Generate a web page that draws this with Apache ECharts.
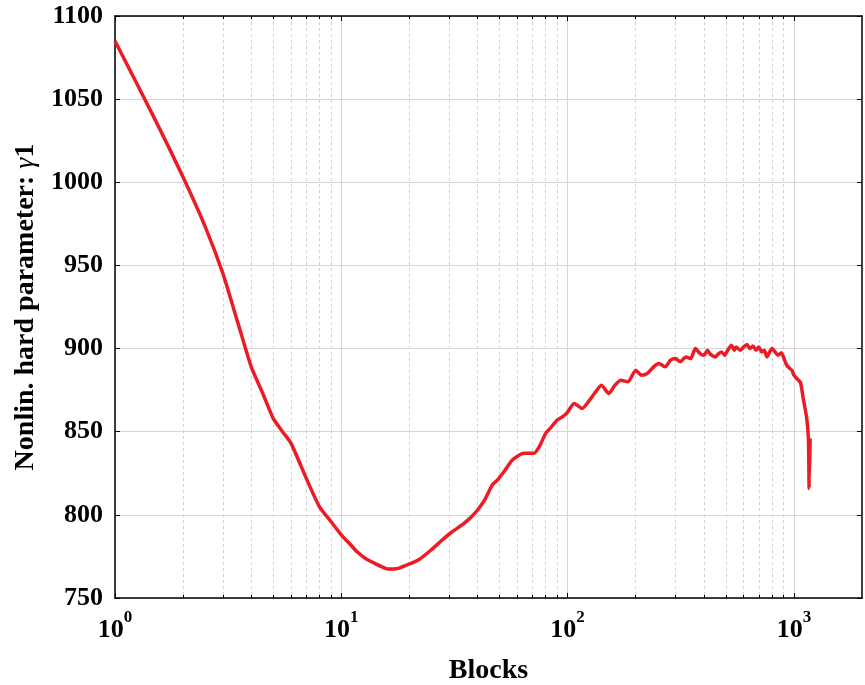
<!DOCTYPE html>
<html><head><meta charset="utf-8">
<script src="https://cdn.jsdelivr.net/npm/echarts@6/dist/echarts.min.js"></script>
<style>html,body{margin:0;padding:0;background:#fff}#c{width:865px;height:685px}</style>
</head><body><div id="c"></div>
<script>
const blocks = [1, 1.5, 2, 2.5, 3, 3.5, 4, 4.5, 5, 5.5, 6, 7, 8, 9, 10, 11, 11.7, 12.9, 14, 15, 16, 17, 18, 20, 22, 25, 28, 31, 35, 39.5, 43, 46.5, 49, 53, 57, 64, 71, 75, 80, 85, 90, 95, 99, 107, 116, 125, 133, 141, 152, 162, 172, 185, 200, 212, 225, 240, 253, 270, 285, 300, 315, 333, 350, 367, 385, 400, 415, 425, 450, 465, 480, 495, 510, 530, 545, 555, 580, 600, 620, 640, 660, 680, 700, 720, 740, 760, 775, 800, 815, 850, 880, 910, 930, 960, 980, 1000, 1030, 1070, 1100, 1140, 1160, 1168, 1180];
const gamma1 = [1085, 1038, 1003, 973.5, 945, 915, 889, 873, 858, 850, 843, 822, 805, 796, 788, 782, 778, 773.5, 771, 769, 767.5, 767.5, 768, 770.5, 773, 779, 785, 790, 795, 802, 809, 818, 821, 827, 833, 837, 837, 841, 849, 853, 857, 859, 861, 867, 864, 869, 874, 878, 873, 878, 881, 880, 887, 884, 885, 889, 891, 889, 893, 894, 892, 895, 894, 900, 897, 896, 899, 897, 895, 897, 898, 896, 899, 902, 899, 901, 899, 901, 902.5, 900, 901.5, 899, 901, 898, 899, 895, 897, 900, 899, 896, 897.5, 893, 890, 888, 887, 884, 882, 879.5, 870, 858, 845, 816, 846];
const yTicks = [750, 800, 850, 900, 950, 1000, 1050, 1100];
const xMajorTicks = [1, 10, 100, 1000];
const xMinorTicks = [2,3,4,5,6,7,8,9,20,30,40,50,60,70,80,90,200,300,400,500,600,700,800,900];

const serif = '"Liberation Serif", "Times New Roman", serif';
const xMin = 1, xMax = 2000;
const chart = echarts.init(document.getElementById('c'), null, {renderer: 'canvas'});

function baseX(extra) {
  return Object.assign({
    type: 'log', logBase: 10, min: xMin, max: xMax, gridIndex: 0,
    axisLine: {show: false}, axisTick: {show: false}, axisLabel: {show: false},
    splitLine: {show: false}, minorTick: {show: false}, minorSplitLine: {show: false}
  }, extra);
}

const option = {
  backgroundColor: '#fff',
  animation: false,
  grid: {left: 115, right: 3, top: 16, bottom: 87, containLabel: false, outerBoundsMode: 'none'},
  xAxis: [
    baseX({
      position: 'bottom',
      name: 'Blocks', nameLocation: 'middle', nameGap: 59,
      nameTextStyle: {fontFamily: serif, fontWeight: 'bold', fontSize: 28, color: '#000'},
      axisLine: {show: true, lineStyle: {color: '#000', width: 1.5}},
      axisTick: {show: true, inside: true, length: 5, customValues: xMajorTicks, lineStyle: {color: '#000', width: 1}},
      axisLabel: {
        show: true, margin: 11, customValues: xMajorTicks,
        formatter: v => '{b|10}{s|' + Math.round(Math.log10(v)) + '}',
        rich: {
          b: {fontFamily: serif, fontWeight: 'bold', fontSize: 26, color: '#000', lineHeight: 34, verticalAlign: 'bottom'},
          s: {fontFamily: serif, fontWeight: 'bold', fontSize: 17, color: '#000', verticalAlign: 'top'}
        }
      },
      splitLine: {show: true, lineStyle: {color: '#d6d6d6', width: 1, type: 'solid'}}
    }),
    baseX({
      position: 'bottom',
      axisTick: {show: true, inside: true, length: 3, customValues: xMinorTicks, lineStyle: {color: '#000', width: 1}},
      splitLine: {show: true, lineStyle: {color: '#d2d2d2', width: 1, type: [3, 3]}}
    }),
    baseX({
      position: 'top',
      axisLine: {show: true, lineStyle: {color: '#000', width: 1.5}},
      axisTick: {show: true, inside: true, length: 5, customValues: xMajorTicks, lineStyle: {color: '#000', width: 1}}
    }),
    baseX({
      position: 'top',
      axisTick: {show: true, inside: true, length: 3, customValues: xMinorTicks, lineStyle: {color: '#000', width: 1}}
    })
  ],
  yAxis: [
    {
      type: 'value', position: 'left', min: 750, max: 1100, interval: 50,
      name: 'Nonlin. hard parameter: {g|γ}1', nameLocation: 'middle', nameRotate: 90, nameGap: 70,
      nameTextStyle: {fontFamily: serif, fontWeight: 'bold', fontSize: 28, color: '#000',
        rich: {g: {fontFamily: serif, fontStyle: 'italic', fontWeight: 'normal', fontSize: 28, color: '#000'}}},
      axisLine: {show: true, lineStyle: {color: '#000', width: 1.5}},
      axisTick: {show: true, inside: true, length: 5, lineStyle: {color: '#000', width: 1}},
      axisLabel: {margin: 12, fontFamily: serif, fontWeight: 'bold', fontSize: 26, color: '#000',
        customValues: yTicks, formatter: v => String(v)},
      splitLine: {show: true, lineStyle: {color: '#d6d6d6', width: 1}}
    },
    {
      type: 'value', position: 'right', min: 750, max: 1100, interval: 50,
      axisLine: {show: true, lineStyle: {color: '#000', width: 1.5}},
      axisTick: {show: true, inside: true, length: 5, lineStyle: {color: '#000', width: 1}},
      axisLabel: {show: false},
      splitLine: {show: false}
    }
  ],
  series: [{
    type: 'line',
    xAxisIndex: 0, yAxisIndex: 0,
    data: blocks.map((b, i) => [b, gamma1[i]]),
    showSymbol: false, symbol: 'none',
    smooth: 0.2,
    lineStyle: {color: '#ec1c24', width: 3.5, join: 'round'},
    z: 5
  }]
};
chart.setOption(option);
</script>
</body></html>
